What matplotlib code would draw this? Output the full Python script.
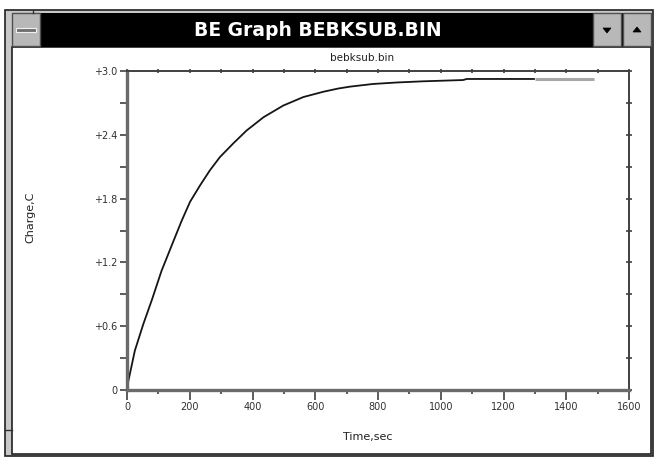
import matplotlib
matplotlib.use("Agg")
import matplotlib.pyplot as plt
from matplotlib.patches import Rectangle, Polygon
import numpy as np

# ---- data ----
time_sec = [0, 4, 25, 52, 79, 110, 148, 174, 201, 233, 264, 296, 339, 381, 435,
            498, 562, 626, 673, 711, 784, 860, 943, 1071, 1083, 1300, 1490]
charge_c = [0.0, 0.08, 0.37, 0.62, 0.845, 1.12, 1.40, 1.59, 1.77, 1.925, 2.065,
            2.19, 2.32, 2.44, 2.565, 2.675, 2.755, 2.805, 2.835, 2.853, 2.878,
            2.892, 2.903, 2.915, 2.925, 2.925, 2.925]
x_ticks = [0, 200, 400, 600, 800, 1000, 1200, 1400, 1600]
x_ticklabels = ["0", "200", "400", "600", "800", "1000", "1200", "1400", "1600"]
y_ticks = [0, 0.6, 1.2, 1.8, 2.4, 3.0]
y_ticklabels = ["0", "+0.6", "+1.2", "+1.8", "+2.4", "+3.0"]
window_title = "BE Graph BEBKSUB.BIN"
plot_title = "bebksub.bin"
x_label = "Time,sec"
y_label = "Charge,C"

W, H = 654, 458
fig = plt.figure(figsize=(W / 100, H / 100), dpi=100)
fig.patch.set_facecolor("white")

# background axes in pixel coordinates for the window chrome
bg = fig.add_axes([0, 0, 1, 1])
bg.set_xlim(0, W)
bg.set_ylim(H, 0)
bg.axis("off")

# window frame
bg.add_patch(Rectangle((5, 10), 648, 446, facecolor="#c8c8c8", edgecolor="#202020", lw=1.2))
# client area
bg.add_patch(Rectangle((12, 47), 639, 407, facecolor="white", edgecolor="#202020", lw=1.2))
# title bar
bg.add_patch(Rectangle((12, 13), 640, 34, facecolor="black", edgecolor="black", lw=0))
# system menu box
bg.add_patch(Rectangle((12, 13), 28, 33, facecolor="#b8b8b8", edgecolor="#505050", lw=1))
bg.add_patch(Rectangle((16, 28), 20, 4, facecolor="#707070", edgecolor="#f0f0f0", lw=0.8))
# min / max buttons
for bx, up in [(593, False), (623, True)]:
    bg.add_patch(Rectangle((bx, 13), 28, 33, facecolor="#b8b8b8", edgecolor="#505050", lw=1))
    cx, cy = bx + 14, 30
    if up:
        pts = [(cx - 4, cy + 2), (cx + 4, cy + 2), (cx, cy - 3)]
    else:
        pts = [(cx - 4, cy - 2), (cx + 4, cy - 2), (cx, cy + 3)]
    bg.add_patch(Polygon(pts, closed=True, facecolor="black", edgecolor="black", lw=0.5))
# border marks
bg.plot([5, 12], [430, 430], color="#303030", lw=1)
bg.plot([33, 33], [10, 13], color="#303030", lw=1)

bg.text(318, 31, window_title, color="white", fontsize=13.5, fontweight="bold",
        ha="center", va="center", family="DejaVu Sans")
bg.text(362, 58, plot_title, color="#202020", fontsize=7.5, ha="center", va="center",
        family="DejaVu Sans")
bg.text(368, 437, x_label, color="#202020", fontsize=8, ha="center", va="center",
        family="DejaVu Sans")
bg.text(30, 217, y_label, color="#202020", fontsize=8, ha="center", va="center",
        rotation=90, family="DejaVu Sans")

# main plot axes
x0, x1, ytop, ybot = 127, 629, 71, 390
ax = fig.add_axes([x0 / W, 1 - ybot / H, (x1 - x0) / W, (ybot - ytop) / H])
ax.set_facecolor("white")
ax.set_xlim(0, 1600)
ax.set_ylim(0, 3.0)

t = np.array(time_sec)
q = np.array(charge_c)
main = t <= 1300
tail = t >= 1300
ax.plot(t[main], q[main], color="#151515", lw=1.3, solid_capstyle="butt",
        solid_joinstyle="round", clip_on=False)
ax.plot(t[tail], q[tail], color="#a8a8a8", lw=2.2, solid_capstyle="butt", clip_on=False)

for side in ["left", "bottom"]:
    ax.spines[side].set_color("#6a6a6a")
    ax.spines[side].set_linewidth(2.4)
for side in ["top", "right"]:
    ax.spines[side].set_color("#404040")
    ax.spines[side].set_linewidth(1.4)

ax.set_xticks(x_ticks)
ax.set_xticklabels(x_ticklabels)
ax.set_xticks(np.arange(100, 1600, 200), minor=True)
ax.set_yticks(y_ticks)
ax.set_yticklabels(y_ticklabels)
ax.set_yticks([0.3, 0.9, 1.5, 2.1, 2.7], minor=True)
ax.tick_params(axis="x", which="major", direction="out", length=7, width=1.2,
               color="#404040", labelsize=7, labelcolor="#303030", pad=2)
ax.tick_params(axis="x", which="minor", direction="out", length=3, width=1.2, color="#404040")
ax.tick_params(axis="y", which="major", direction="out", length=5, width=1.2,
               color="#404040", labelsize=7, labelcolor="#303030", pad=2)
ax.tick_params(axis="y", which="minor", direction="out", length=5, width=1.2, color="#404040")

# right ticks every 0.3, crossing the spine
sec_y = ax.secondary_yaxis("right")
sec_y.set_yticks(np.round(np.arange(0, 3.01, 0.3), 2))
sec_y.tick_params(direction="inout", length=5, width=1.2, color="#404040", labelright=False)
sec_y.spines["right"].set_visible(False)
# top ticks every 100
sec_x = ax.secondary_xaxis("top")
sec_x.set_xticks(np.arange(0, 1601, 100))
sec_x.tick_params(direction="inout", length=3, width=1.2, color="#404040", labeltop=False)
sec_x.spines["top"].set_visible(False)

fig.savefig("out.png", dpi=100, facecolor="white")
